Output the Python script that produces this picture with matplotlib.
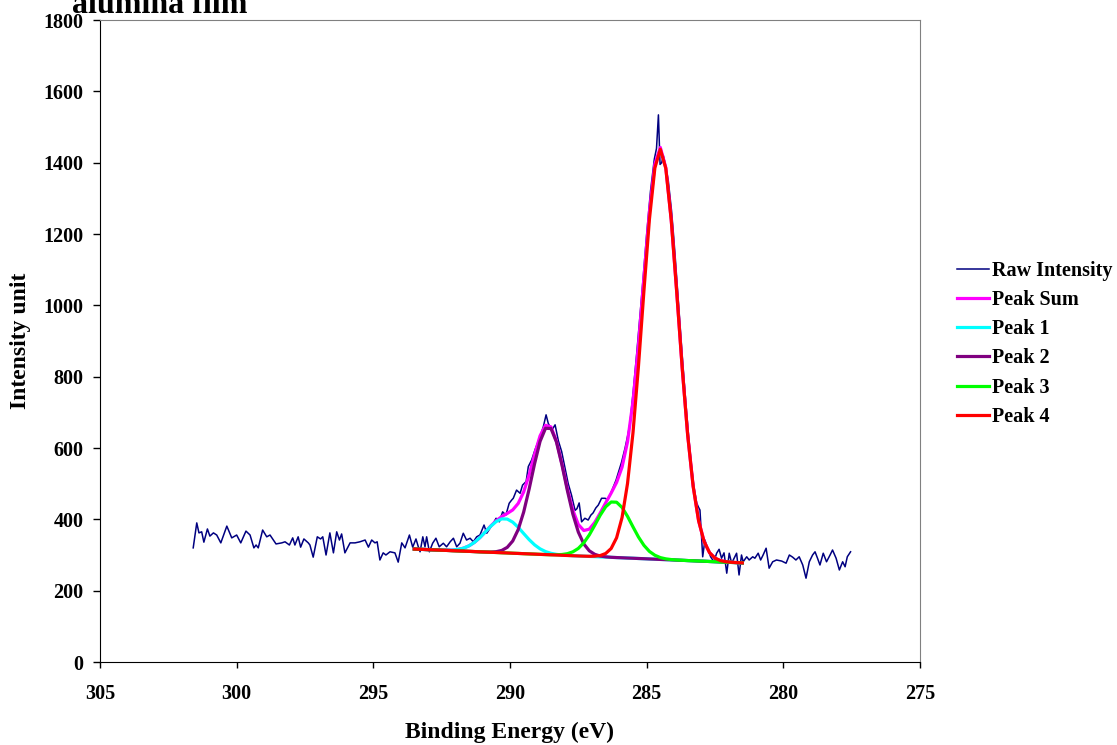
import numpy as np
import matplotlib
matplotlib.use('Agg')
import matplotlib.pyplot as plt

# Espectro bruto
raw_energy = [301.59, 301.46, 301.38, 301.28, 301.20, 301.07, 300.98, 300.85, 300.73, 300.58,
              300.36, 300.18, 300.00, 299.85, 299.66, 299.51, 299.37, 299.29, 299.21, 299.05,
              298.90, 298.78, 298.56, 298.35, 298.23, 298.07, 297.95, 297.87, 297.75, 297.66,
              297.54, 297.38, 297.32, 297.20, 297.05, 296.93, 296.85, 296.73, 296.59, 296.46,
              296.34, 296.24, 296.16, 296.04, 295.85, 295.67, 295.49, 295.30, 295.18, 295.06,
              294.94, 294.86, 294.76, 294.64, 294.54, 294.39, 294.21, 294.09, 293.96, 293.84,
              293.68, 293.56, 293.44, 293.35, 293.29, 293.19, 293.11, 293.05, 292.95, 292.83,
              292.71, 292.59, 292.44, 292.32, 292.19, 292.07, 291.95, 291.83, 291.71, 291.59,
              291.46, 291.34, 291.22, 291.10, 290.95, 290.85, 290.73, 290.61, 290.51, 290.39,
              290.27, 290.15, 290.03, 289.94, 289.88, 289.76, 289.63, 289.54, 289.41, 289.33,
              289.21, 289.09, 288.90, 288.78, 288.68, 288.60, 288.47, 288.35, 288.23, 288.11,
              287.99, 287.87, 287.75, 287.62, 287.55, 287.47, 287.38, 287.26, 287.14, 287.04,
              286.96, 286.86, 286.77, 286.65, 286.52, 286.42, 286.34, 286.22, 286.12, 286.04,
              285.92, 285.79, 285.68, 285.61, 285.49, 285.37, 285.24, 285.12, 285.00, 284.86,
              284.72, 284.64, 284.57, 284.51, 284.45, 284.39, 284.33, 284.21, 284.09, 284.02,
              283.96, 283.84, 283.76, 283.69, 283.61, 283.54, 283.45, 283.36, 283.27, 283.17,
              283.11, 283.05, 282.95, 282.87, 282.75, 282.66, 282.54, 282.44, 282.35, 282.26,
              282.17, 282.07, 281.98, 281.89, 281.80, 281.71, 281.62, 281.53, 281.47, 281.34,
              281.25, 281.12, 281.04, 280.92, 280.83, 280.74, 280.63, 280.52, 280.39, 280.25,
              280.06, 279.90, 279.78, 279.66, 279.54, 279.42, 279.29, 279.17, 279.05, 278.93,
              278.84, 278.75, 278.66, 278.54, 278.42, 278.29, 278.20, 278.07, 277.95, 277.83,
              277.74, 277.66, 277.54]
raw_intensity = [320, 390, 362, 365, 336, 373, 353, 362, 356, 334,
                 381, 348, 356, 334, 367, 356, 320, 328, 320, 370,
                 351, 356, 331, 334, 337, 328, 348, 328, 351, 322,
                 345, 334, 328, 294, 351, 345, 351, 300, 362, 306,
                 365, 342, 359, 306, 334, 334, 337, 342, 322, 342,
                 334, 337, 286, 306, 300, 309, 306, 280, 334, 320,
                 356, 322, 345, 322, 309, 351, 323, 351, 309, 333,
                 347, 323, 333, 323, 337, 347, 323, 333, 361, 342,
                 347, 337, 351, 356, 384, 361, 375, 389, 403, 393,
                 421, 412, 445, 454, 459, 482, 473, 496, 506, 548,
                 566, 594, 632, 660, 693, 669, 650, 665, 620, 590,
                 545, 500, 468, 425, 430, 446, 393, 403, 398, 412,
                 418, 432, 440, 459, 459, 455, 468, 491, 510, 530,
                 560, 600, 640, 670, 760, 860, 975, 1085, 1200, 1320,
                 1410, 1440, 1534, 1395, 1400, 1420, 1400, 1350, 1265, 1200,
                 1140, 1010, 925, 850, 770, 700, 620, 550, 490, 446,
                 435, 426, 295, 342, 314, 295, 281, 305, 316, 291,
                 306, 249, 305, 277, 291, 305, 244, 300, 281, 295,
                 286, 295, 291, 305, 286, 300, 319, 263, 281, 286,
                 283, 277, 300, 294, 286, 295, 272, 235, 281, 300,
                 309, 291, 272, 305, 281, 300, 314, 291, 258, 281,
                 267, 295, 309]

# Ajuste: energia, linha de base e componentes (acima da base)
fit_energy = [293.5, 293.3, 293.1, 292.9, 292.7, 292.5, 292.3, 292.1, 291.9, 291.7,
              291.5, 291.3, 291.1, 290.9, 290.7, 290.5, 290.3, 290.1, 289.9, 289.7,
              289.5, 289.3, 289.1, 288.9, 288.7, 288.5, 288.3, 288.1, 287.9, 287.7,
              287.5, 287.3, 287.1, 286.9, 286.7, 286.5, 286.3, 286.1, 285.9, 285.7,
              285.5, 285.3, 285.1, 284.9, 284.7, 284.5, 284.3, 284.1, 283.9, 283.7,
              283.5, 283.3, 283.1, 282.9, 282.7, 282.5, 282.3, 282.1, 281.9, 281.7,
              281.5]
baseline = [316.6, 316.0, 315.4, 314.7, 314.1, 313.4, 312.8, 312.1, 311.5, 310.8,
            310.2, 309.6, 308.9, 308.3, 307.6, 307.0, 306.3, 305.7, 305.0, 304.4,
            303.7, 303.1, 302.5, 301.8, 301.2, 300.5, 299.9, 299.2, 298.6, 297.9,
            297.3, 296.7, 296.0, 295.4, 294.7, 294.1, 293.4, 292.8, 292.2, 291.5,
            290.9, 290.2, 289.6, 288.9, 288.3, 287.6, 287.0, 286.4, 285.7, 285.1,
            284.4, 283.8, 283.1, 282.5, 281.8, 281.2, 280.5, 279.9, 279.2, 278.6,
            278.0]
peak1 = ([0, 0, 0, 0, 0.1, 0.3, 0.8, 1.9, 4.2, 8.4,
          15.5, 25.9, 40.0, 56.5, 73.3, 87.1, 95.0, 95.0, 87.1, 73.3,
          56.5, 40.0, 25.9, 15.5, 8.4, 4.2, 1.9, 0.8, 0.3, 0.1] + [0] * 31)
peak2 = ([0] * 13 +
         [0.2, 0.8, 2.4, 6.5, 15.8, 34.3, 66.9,
          116.6, 181.8, 253.7, 316.8, 354.1, 354.1, 316.8, 253.7, 181.8, 116.6,
          66.9, 34.3, 15.8, 6.5, 2.4, 0.8, 0.2] + [0] * 24)
peak3 = ([0] * 25 +
         [0.3, 0.8, 2.2, 5.1, 11.0,
          21.2, 37.5, 60.2, 87.9, 116.8, 141.1, 155.2, 155.2, 141.1, 116.8,
          87.9, 60.2, 37.5, 21.2, 11.0, 5.1, 2.2, 0.8, 0.3] + [0] * 12)
peak4 = ([0] * 31 +
         [0.1, 0.4, 1.3, 3.7, 10.1, 24.8, 55.5, 113.0, 209.2,
          352.1, 539.2, 751.1, 951.6, 1096.9, 1150.0, 1096.9, 951.6, 751.1, 539.2,
          352.1, 209.2, 113.0, 55.5, 24.8, 10.1, 3.7, 1.3, 0.4, 0.1] + [0] * 1)

base = np.array(baseline)
comps = [np.array(p) for p in (peak1, peak2, peak3, peak4)]
peak_sum = base + sum(comps)

plt.rcParams['font.family'] = ['Liberation Serif', 'DejaVu Serif']
plt.rcParams['font.weight'] = 'bold'
fs = 14.5
fs_title = 17

fig = plt.figure(figsize=(11.17, 7.45), dpi=100)
ax = fig.add_axes([100 / 1117, 1 - 662 / 745, 820 / 1117, 642 / 745])

ax.plot(raw_energy, raw_intensity, color='#000080', lw=1.1, label='Raw Intensity')
ax.plot(fit_energy, peak_sum, color='#FF00FF', lw=2.3, label='Peak Sum')
ax.plot(fit_energy, base + comps[0], color='#00FFFF', lw=2.3, label='Peak 1')
ax.plot(fit_energy, base + comps[1], color='#800080', lw=2.3, label='Peak 2')
ax.plot(fit_energy, base + comps[2], color='#00FF00', lw=2.3, label='Peak 3')
ax.plot(fit_energy, base + comps[3], color='#FF0000', lw=2.3, label='Peak 4')

ax.set_xlim(305, 275)
ax.set_ylim(0, 1800)
ax.set_xticks([305, 300, 295, 290, 285, 280, 275])
ax.set_yticks(range(0, 1801, 200))
ax.tick_params(axis='x', direction='out', length=4.5, width=1, pad=11, labelsize=fs)
ax.tick_params(axis='y', direction='out', length=5, width=1, pad=7, labelsize=fs)
for lab in ax.get_xticklabels() + ax.get_yticklabels():
    lab.set_fontweight('bold')

for s in ('top', 'right'):
    ax.spines[s].set_color('#808080')
for s in ('left', 'bottom'):
    ax.spines[s].set_color('black')

ax.set_xlabel('Binding Energy (eV)', fontsize=fs_title, fontweight='bold', labelpad=13)
ax.set_ylabel('Intensity unit', fontsize=fs_title, fontweight='bold', labelpad=9)

# título cortado no topo, como no original
fig.text(72 / 1117, 1 - 13 / 745, 'alumina film', fontsize=23, fontweight='bold',
         ha='left', va='baseline')

fig.legend(loc='upper left', bbox_to_anchor=(957 / 1117, 1 - 261 / 745),
           frameon=False, handlelength=1.6, handletextpad=0.15,
           labelspacing=0.455, borderpad=0, borderaxespad=0,
           prop={'weight': 'bold', 'size': fs})

fig.savefig('out.png', dpi=100)
